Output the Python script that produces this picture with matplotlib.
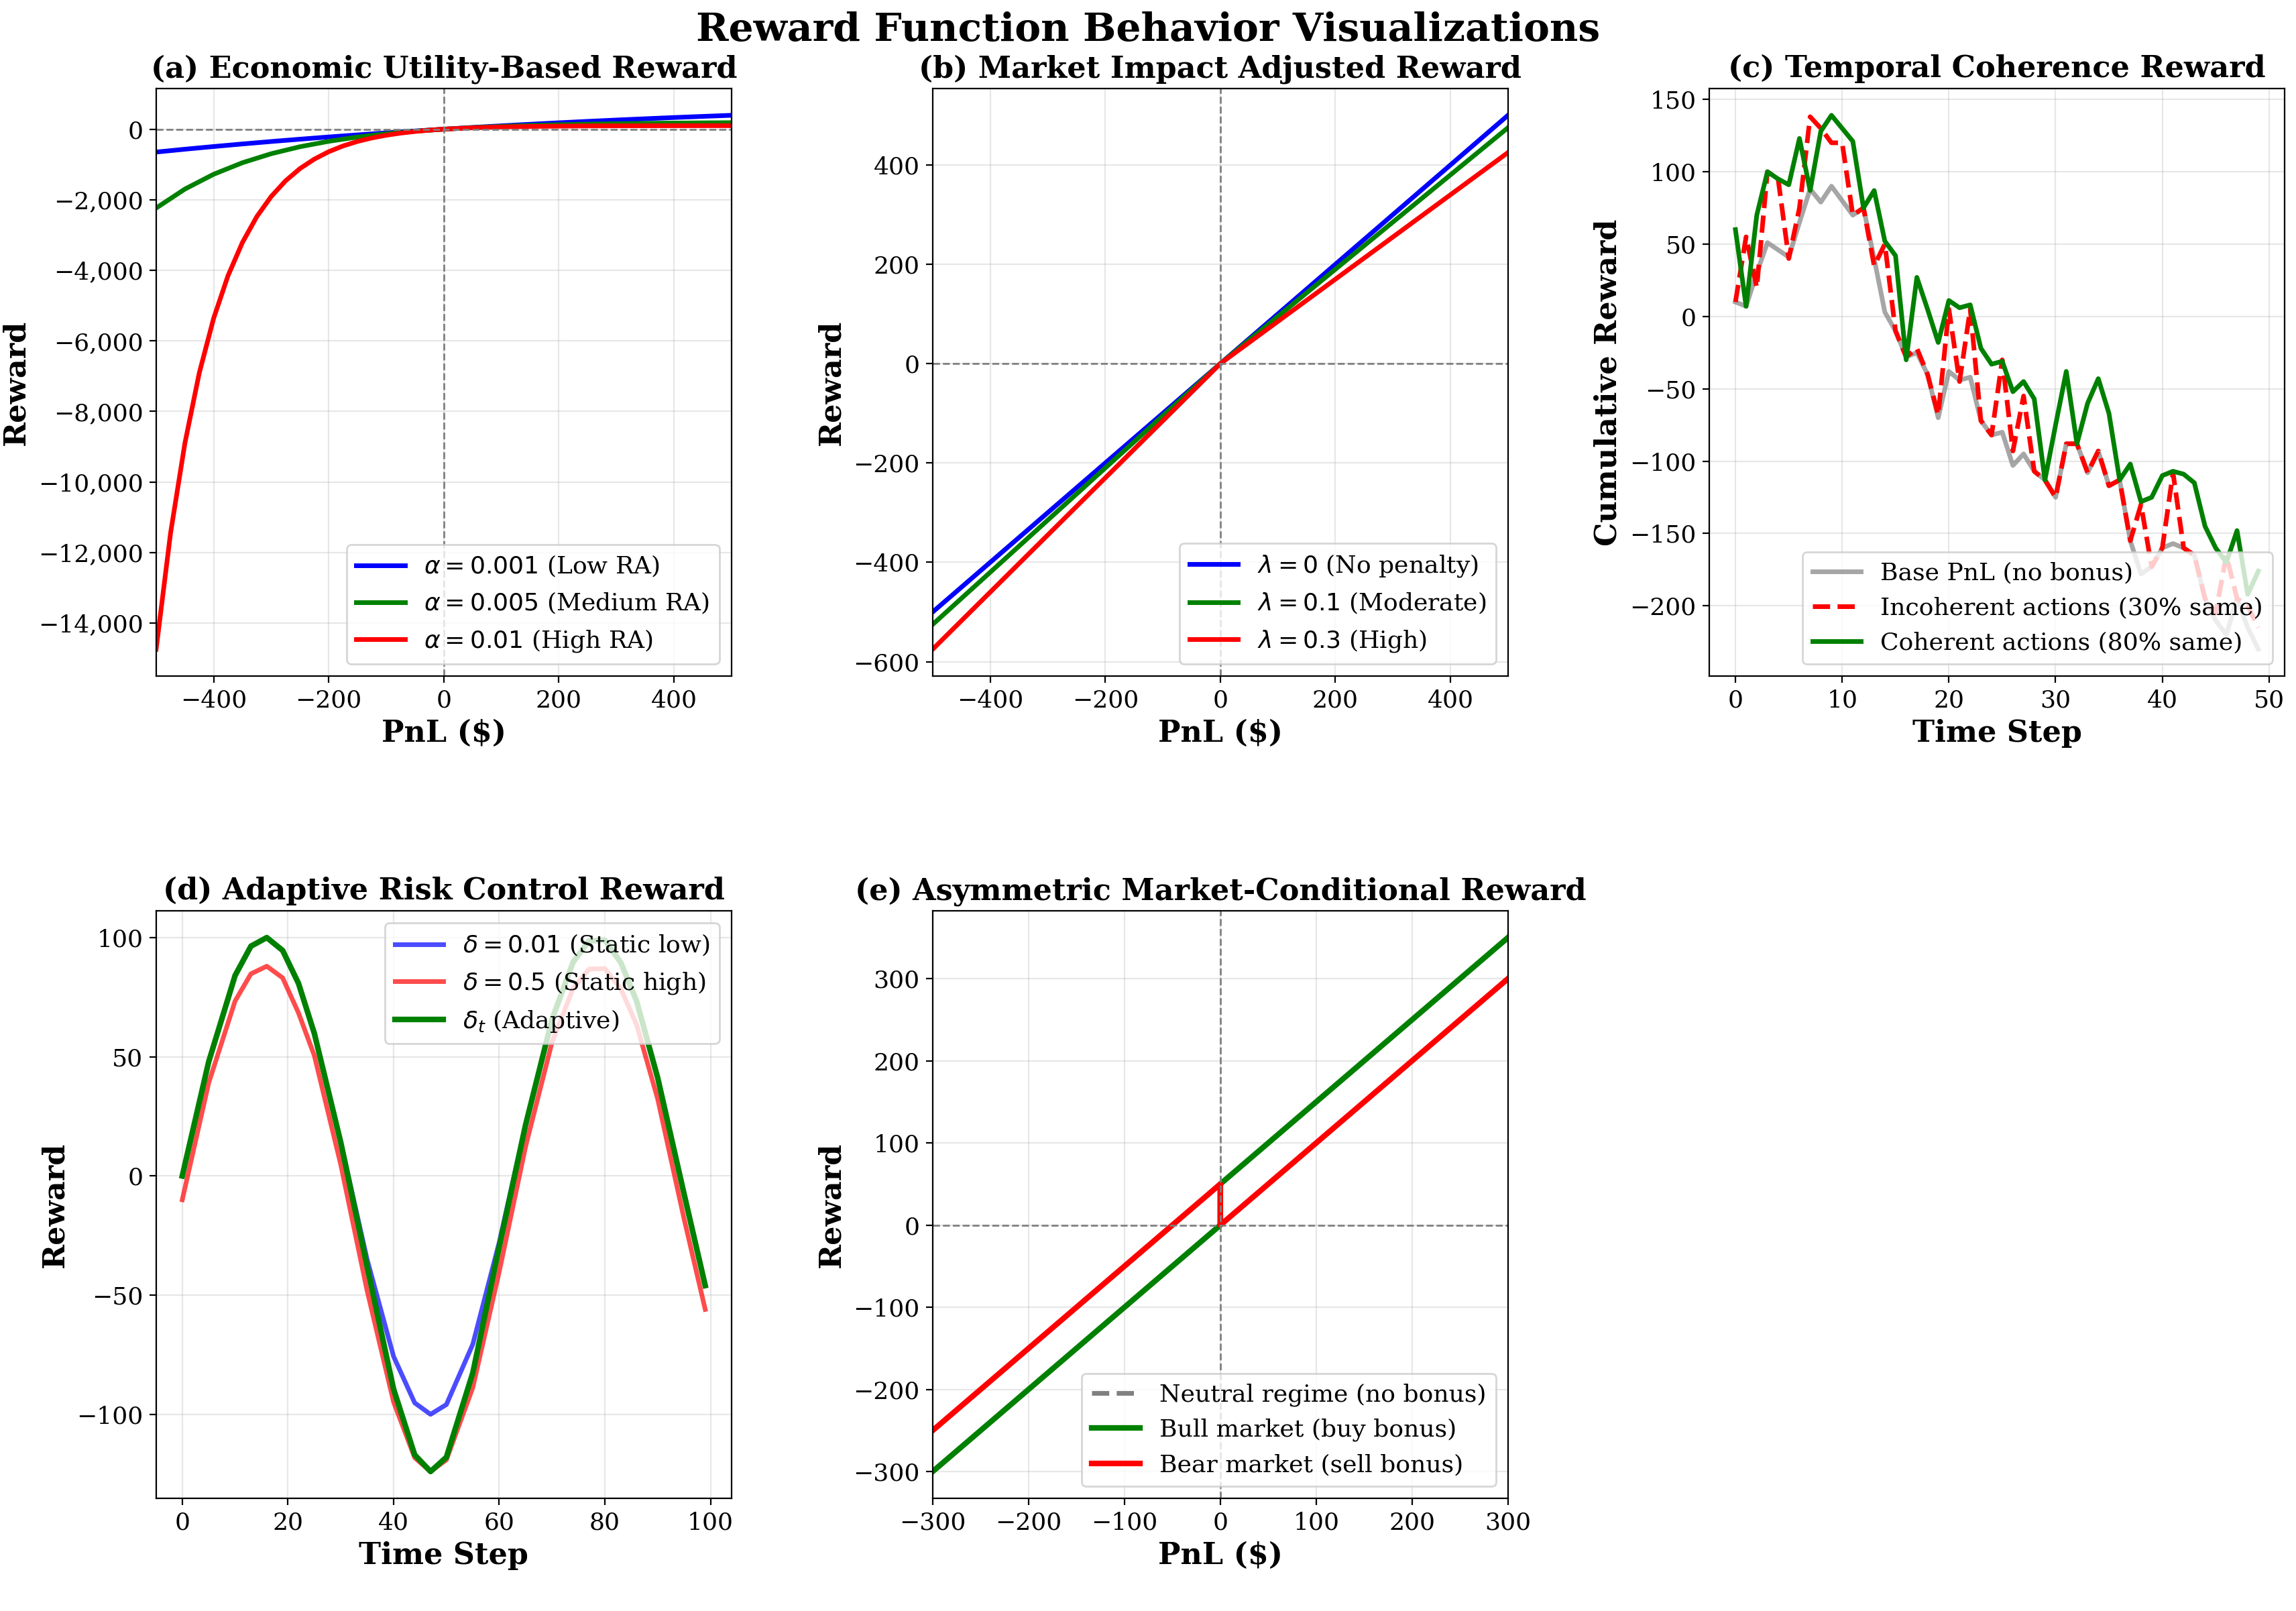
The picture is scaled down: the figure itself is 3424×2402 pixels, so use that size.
import numpy as np
import matplotlib
matplotlib.use('Agg')
import matplotlib.pyplot as plt
from matplotlib.ticker import FuncFormatter

plt.rcParams['font.family'] = 'DejaVu Serif'
plt.rcParams['axes.unicode_minus'] = True

# (a) utility curves, sampled points
xa_low = [-500, -450, -400, -350, -300, -250, -200, -150, -100, -50, 0, 50, 100, 150, 200, 250, 300, 350, 400, 450, 500]
ya_low = [-649, -568, -492, -419, -350, -284, -221, -162, -105, -51, 0, 49, 95, 139, 181, 221, 259, 295, 330, 362, 393]
ya_med = [-2236, -1698, -1278, -951, -696, -498, -344, -223, -130, -57, 0, 44, 79, 106, 126, 143, 155, 165, 173, 179, 184]
xa_high = [-500, -475, -450, -425, -400, -375, -350, -325, -300, -275, -250, -225, -200, -175, -150, -125, -100, -75, -50, -25, 0, 50, 100, 150, 200, 250, 300, 400, 500]
ya_high = [-14741, -11458, -8902, -6910, -5360, -4152, -3212, -2479, -1909, -1464, -1118, -849, -639, -475, -348, -249, -172, -112, -65, -28, 0, 39, 63, 78, 86, 92, 95, 98, 99]

# (b) market impact
xb = [-500, 0, 500]
yb_none = [-500, 0, 500]
yb_mod = [-525, 0, 475]
yb_high = [-575, 0, 425]

# (c) temporal coherence
tc = list(range(50))
base = [10, 7, 30, 51, 46, 41, 65, 88, 79, 90, 80, 70, 75, 40, 3, -10, -28, -25, -40, -70,
        -38, -44, -42, -72, -82, -80, -103, -95, -107, -113, -125, -88, -88, -108, -93, -117, -113, -155, -178, -173,
        -160, -157, -160, -165, -195, -210, -220, -195, -215, -230]
incoh = [10, 55, 20, 100, 95, 40, 75, 138, 130, 120, 120, 70, 75, 35, 50, -10, -28, -22, -40, -68,
         5, -45, 5, -72, -82, -30, -93, -55, -107, -113, -125, -88, -88, -108, -93, -117, -113, -155, -130, -173,
         -160, -108, -160, -165, -195, -205, -165, -195, -200, -215]
coh = [60, 7, 70, 100, 95, 91, 123, 87, 128, 139, 130, 121, 75, 87, 52, 42, -30, 27, 5, -18,
       11, 6, 8, -22, -33, -31, -52, -45, -57, -113, -75, -38, -88, -60, -43, -67, -113, -102, -128, -125,
       -110, -107, -109, -115, -145, -160, -170, -148, -192, -176]

# (d) adaptive risk control
td = [0, 5, 10, 13, 16, 19, 22, 25, 30, 35, 40, 44, 47, 50, 55, 60, 65, 70, 74, 77, 80, 83, 86, 90, 95, 99]
rd_low = [0, 47.9, 84.1, 96.4, 100, 94.6, 80.8, 59.8, 14.1, -35.1, -75.7, -95.2, -100, -95.9, -70.6, -27.9, 21.5, 65.7, 89.8, 98.6, 98.9, 89.6, 73.4, 41.2, -7.5, -45.8]
rd_high = [-10, 39.0, 73.4, 84.8, 88.0, 83.1, 68.4, 50.5, 4.8, -48.2, -94.8, -118.2, -124, -119.1, -88.8, -40.2, 12.4, 56.1, 78.7, 86.8, 87.0, 78.6, 63.5, 32.3, -18.0, -56]
rd_adapt = [0, 47.9, 84.1, 96.4, 100, 94.6, 80.8, 59.8, 14.1, -38.1, -89.4, -117.0, -124, -118.0, -82.6, -29.8, 21.5, 65.7, 89.8, 98.6, 98.9, 89.6, 73.4, 41.2, -7.6, -46]

# (e) asymmetric
xe = [-300, 0, 0, 300]
ye_neutral = [-300, 0, 0, 300]
ye_bull = [-300, 0, 50, 350]
ye_bear = [-250, 50, 0, 300]

fig, axes = plt.subplots(2, 3, figsize=(17.12, 12.01))
fig.suptitle('Reward Function Behavior Visualizations', fontsize=21, fontweight='bold', y=0.993)
tfs = 16
lfs = 16
legfs = 13

def style(ax, title, xlabel, ylabel):
    ax.set_title(title, fontsize=tfs, fontweight='bold')
    ax.set_xlabel(xlabel, fontsize=lfs, fontweight='bold')
    ax.set_ylabel(ylabel, fontsize=lfs, fontweight='bold')
    ax.grid(True, alpha=0.3)
    ax.tick_params(labelsize=13)

ax = axes[0, 0]
ax.plot(xa_low, ya_low, color='blue', lw=2.5, label=r'$\alpha = 0.001$ (Low RA)')
ax.plot(xa_low, ya_med, color='green', lw=2.5, label=r'$\alpha = 0.005$ (Medium RA)')
ax.plot(xa_high, ya_high, color='red', lw=2.5, label=r'$\alpha = 0.01$ (High RA)')
ax.axhline(0, color='gray', ls='--', lw=1)
ax.axvline(0, color='gray', ls='--', lw=1)
ax.set_xlim(-500, 500)
ax.yaxis.set_major_formatter(FuncFormatter(lambda v, p: f'{v:,.0f}'.replace('-', '\u2212')))
style(ax, '(a) Economic Utility-Based Reward', 'PnL ($)', 'Reward')
ax.legend(loc='lower right', fontsize=legfs)

ax = axes[0, 1]
ax.plot(xb, yb_none, color='blue', lw=2.5, label=r'$\lambda = 0$ (No penalty)')
ax.plot(xb, yb_mod, color='green', lw=2.5, label=r'$\lambda = 0.1$ (Moderate)')
ax.plot(xb, yb_high, color='red', lw=2.5, label=r'$\lambda = 0.3$ (High)')
ax.axhline(0, color='gray', ls='--', lw=1)
ax.axvline(0, color='gray', ls='--', lw=1)
ax.set_xlim(-500, 500)
style(ax, '(b) Market Impact Adjusted Reward', 'PnL ($)', 'Reward')
ax.legend(loc='lower right', fontsize=legfs)

ax = axes[0, 2]
ax.plot(tc, base, color='gray', lw=2.5, alpha=0.7, label='Base PnL (no bonus)')
ax.plot(tc, incoh, color='red', lw=2.5, ls='--', label='Incoherent actions (30% same)')
ax.plot(tc, coh, color='green', lw=2.5, label='Coherent actions (80% same)')
style(ax, '(c) Temporal Coherence Reward', 'Time Step', 'Cumulative Reward')
ax.legend(loc='lower right', fontsize=legfs)

ax = axes[1, 0]
ax.plot(td, rd_low, color='blue', lw=2.5, alpha=0.7, label=r'$\delta = 0.01$ (Static low)')
ax.plot(td, rd_high, color='red', lw=2.5, alpha=0.7, label=r'$\delta = 0.5$ (Static high)')
ax.plot(td, rd_adapt, color='green', lw=3, label=r'$\delta_t$ (Adaptive)')
style(ax, '(d) Adaptive Risk Control Reward', 'Time Step', 'Reward')
ax.legend(loc='upper right', fontsize=legfs)

ax = axes[1, 1]
ax.plot(xe, ye_neutral, color='gray', lw=2.5, ls='--', label='Neutral regime (no bonus)')
ax.plot(xe, ye_bull, color='green', lw=3, label='Bull market (buy bonus)')
ax.plot(xe, ye_bear, color='red', lw=3, label='Bear market (sell bonus)')
ax.axhline(0, color='gray', ls='--', lw=1)
ax.axvline(0, color='gray', ls='--', lw=1)
ax.set_xlim(-300, 300)
style(ax, '(e) Asymmetric Market-Conditional Reward', 'PnL ($)', 'Reward')
ax.legend(loc='lower right', fontsize=legfs)

axes[1, 2].axis('off')

plt.subplots_adjust(left=0.068, right=0.995, top=0.945, bottom=0.07, wspace=0.35, hspace=0.4)
plt.savefig('out.png', dpi=200)
plt.close()
